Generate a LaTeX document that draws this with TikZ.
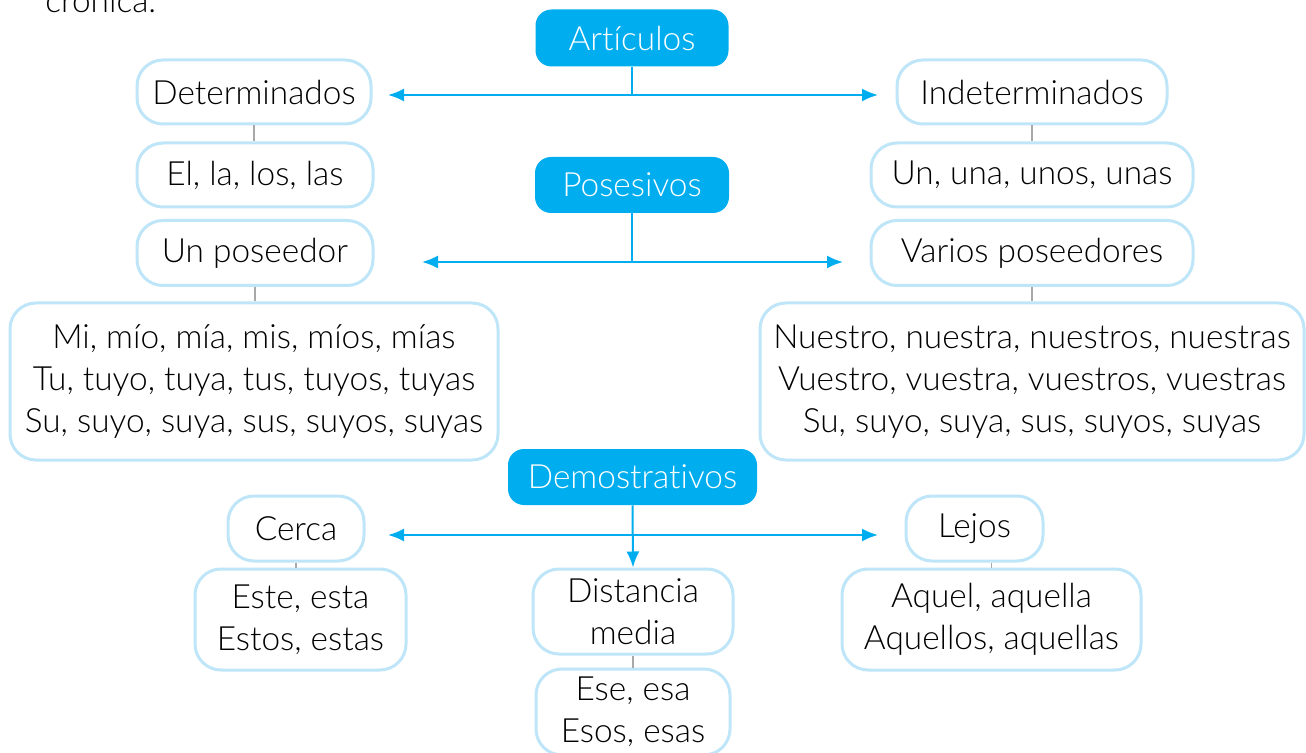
\documentclass[tikz,border=0pt]{standalone}
\usepackage{fontspec}
\IfFontExistsTF{Lato Light}{\setmainfont[Ligatures=NoCommon]{Lato Light}}{\setmainfont[Ligatures=NoCommon]{Lato}}
\usetikzlibrary{arrows.meta}
\definecolor{hdr}{HTML}{00AEEF}
\definecolor{lb}{HTML}{BEE6F8}
\definecolor{gl}{HTML}{A8A8A8}
\tikzset{
  txt/.style={font=\fontsize{16.7}{21}\selectfont},
  box/.style={txt, draw=lb, line width=1.5pt, rounded corners=13pt, fill=white, align=center, inner sep=0pt},
  hbox/.style={txt, fill=hdr, text=white, rounded corners=8pt, align=center, inner sep=0pt},
  arr/.style={draw=hdr, line width=1pt, -{Latex[length=8pt,width=6.5pt]}},
  stem/.style={draw=hdr, line width=1pt},
  glink/.style={draw=gl, line width=0.6pt}
}
\begin{document}
\begin{tikzpicture}[x=0.5pt,y=-0.5pt]
\clip (0,0) rectangle (1306,753);
\fill[white] (0,0) rectangle (1306,753);
\node[txt, anchor=base west, inner sep=0pt] (cr) at (45,13) {crónica.};
% Articulos
\node[hbox, minimum width=96.5pt, minimum height=28.5pt] (art) at (632,38) {Artículos};
\node[box, minimum width=117pt, minimum height=32pt] (det) at (254,92) {Determinados};
\node[box, minimum width=135pt, minimum height=32pt] (ind) at (1032,92) {Indeterminados};
\node[box, minimum width=118pt, minimum height=32pt] (el) at (255,175) {El, la, los, las};
\node[box, minimum width=161pt, minimum height=32pt] (un) at (1032,175) {Un, una, unos, unas};
\coordinate (aj) at (632,95);
\coordinate (al) at (388,95);
\coordinate (ar) at (878,95);
\draw[stem] (art.south) -- (aj);
\draw[arr] (aj) -- (al);
\draw[arr] (aj) -- (ar);
\draw[glink] (det.south) -- (det.south |- el.north);
\draw[glink] (ind.south) -- (un.north);
% Posesivos
\node[hbox, minimum width=97pt, minimum height=28pt] (pos) at (632,185) {Posesivos};
\node[box, minimum width=118pt, minimum height=32.5pt] (unp) at (255,253) {Un poseedor};
\node[box, minimum width=161pt, minimum height=32.5pt] (var) at (1032,253) {Varios poseedores};
\node[box, minimum width=244pt, minimum height=78.5pt] (mi) at (254,381.5) {Mi, mío, mía, mis, míos, mías\\Tu, tuyo, tuya, tus, tuyos, tuyas\\Su, suyo, suya, sus, suyos, suyas};
\node[box, minimum width=272pt, minimum height=78.5pt] (nu) at (1032,381.5) {Nuestro, nuestra, nuestros, nuestras\\Vuestro, vuestra, vuestros, vuestras\\Su, suyo, suya, sus, suyos, suyas};
\coordinate (pj) at (632,262);
\coordinate (pl) at (422,262);
\coordinate (pr) at (843,262);
\draw[stem] (pos.south) -- (pj);
\draw[arr] (pj) -- (pl);
\draw[arr] (pj) -- (pr);
\draw[glink] (unp.south) -- (unp.south |- mi.north);
\draw[glink] (var.south) -- (nu.north);
% Demostrativos
\node[hbox, minimum width=124.5pt, minimum height=28pt] (dem) at (632.5,477) {Demostrativos};
\node[box, minimum width=68pt, minimum height=32.5pt] (cer) at (296,528.5) {Cerca};
\node[box, minimum width=68.5pt, minimum height=32.5pt] (lej) at (974.5,528.5) {Lejos};
\node[box, minimum width=105.5pt, minimum height=50.5pt] (este) at (300.5,619.5) {Este, esta\\Estos, estas};
\node[box, minimum width=149.5pt, minimum height=50.5pt] (aq) at (991.5,619.5) {Aquel, aquella\\Aquellos, aquellas};
\node[box, minimum width=100pt, minimum height=42.5pt] (dm) at (633,611.5) {Distancia\\media};
\node[box, minimum width=97pt, minimum height=43pt] (ese) at (633,712) {Ese, esa\\Esos, esas};
\coordinate (dj) at (632,535);
\coordinate (dl) at (388,535);
\coordinate (dr) at (878,535);
\draw[arr] (dem.south) -- (dm.north);
\draw[arr] (dj) -- (dl);
\draw[arr] (dj) -- (dr);
\draw[glink] (cer.south) -- (cer.south |- este.north);
\draw[glink] (lej.south -| aq.north) -- (aq.north);
\draw[glink] (dm.south) -- (ese.north);
\end{tikzpicture}
\end{document}
